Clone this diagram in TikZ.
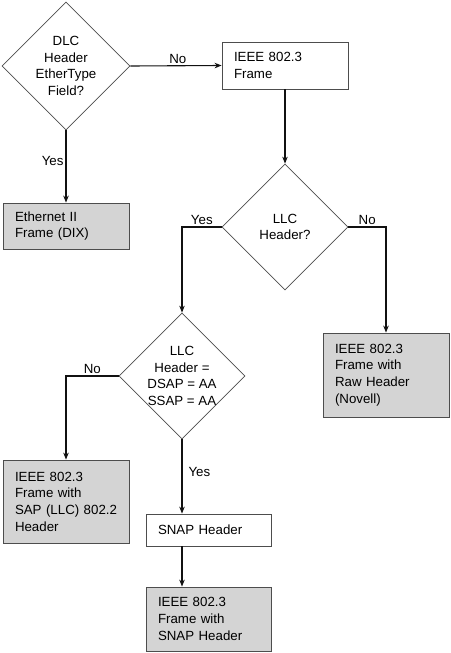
\documentclass[tikz,border=0pt]{standalone}
\usepackage{fontspec}
\setmainfont{Liberation Sans}
\usetikzlibrary{shapes.geometric,arrows.meta}

\definecolor{cd4d4d4}{RGB}{212,212,212}
\definecolor{c4d4d4d}{RGB}{77,77,77}
\definecolor{c111111}{RGB}{17,17,17}
\def \globalscale {1.000000}

\begin{document}
\begin{tikzpicture}[y=-1pt, x=1pt, yscale=\globalscale,xscale=\globalscale, every node/.append style={scale=\globalscale},
  font=\fontsize{13.3pt}{16.7pt}\selectfont,
  decision/.style={shape=diamond, draw=c4d4d4d, line width=0.7pt, minimum size=126pt, inner sep=-4pt, align=center},
  framebox/.style={shape=rectangle, draw=c4d4d4d, line width=0.8pt, fill=white, text width=102pt, inner xsep=12pt, inner ysep=0pt, align=left},
  resultbox/.style={framebox, fill=cd4d4d4},
  flow/.style={draw=c111111, line width=1.1pt, -{Stealth[length=7pt,width=5.5pt]}},
  lbl/.style={inner sep=2pt}]
  \useasboundingbox (0, 0) rectangle (450, 653);

  % decisions
  \node[decision, minimum size=128pt] (dlc) at (66, 66) {DLC\\Header\\EtherType\\Field?};
  \node[decision] (llc) at (285, 227) {LLC\\Header?};
  \node[decision] (llcdsap) at (182, 376) {LLC\\Header =\\DSAP = AA\\SSAP = AA};

  % frames
  \node[framebox, minimum height=47pt] (ieee) at (285, 65.5) {IEEE 802.3\\Frame};
  \node[resultbox, minimum height=46pt] (ethii) at (66, 226) {Ethernet II\\Frame (DIX)};
  \node[resultbox, minimum height=84pt] (novell) at (386, 375) {IEEE 802.3\\Frame with\\Raw Header\\(Novell)};
  \node[resultbox, minimum height=83pt] (sap) at (66, 501.5) {IEEE 802.3\\Frame with\\\mbox{SAP (LLC) 802.2}\\Header};
  \node[framebox, text width=101pt, minimum height=32pt] (snap) at (208.5, 530) {SNAP Header};
  \node[resultbox, text width=101pt, minimum height=64pt] (snapframe) at (208.5, 619) {IEEE 802.3\\Frame with\\SNAP Header};

  % connectors
  \draw[flow] (dlc.east) -- node[lbl, above, pos=0.52] (lno1) {No} (ieee.west);
  \draw[flow] (dlc.south) -- node[lbl, left, pos=0.42] (lyes1) {Yes} (ethii.north);
  \draw[flow] (ieee.south) -- (llc.north);
  \draw[flow] (llc.west) -| node[lbl, above, pos=0.25] (lyes2) {Yes} (llcdsap.north);
  \draw[flow] (llc.east) -| node[lbl, above, pos=0.25] (lno2) {No} (novell.north);
  \draw[flow] (llcdsap.west) -| node[lbl, above, pos=0.25] (lno3) {No} (sap.north);
  \draw[flow] (llcdsap.south) -- node[lbl, right=4pt, pos=0.44] (lyes3) {Yes} (llcdsap.south |- snap.north);
  \draw[flow] (snap.south -| llcdsap.south) -- (snapframe.north -| llcdsap.south);

\end{tikzpicture}
\end{document}
